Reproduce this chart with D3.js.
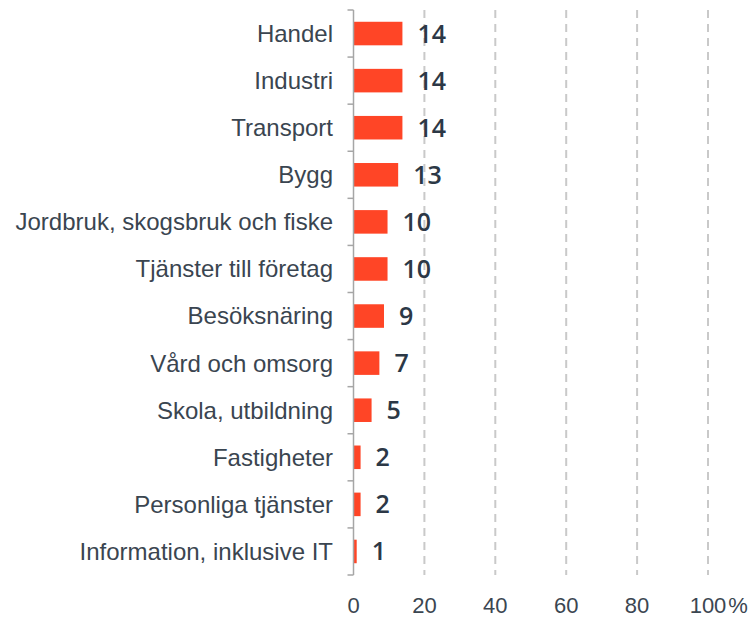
<!DOCTYPE html>
<html>
<script src="https://d3js.org/d3.v7.min.js"></script>

<head>
    <meta charset="utf-8">
    <style>
        body {
            margin: 0;
            background-color: #ffffff;
        }

        svg {
            display: block;
        }
    </style>
</head>

<body>
</body>
<script>
    const width = 756,
        height = 617;

    const categories = [
        "Handel", "Industri", "Transport", "Bygg",
        "Jordbruk, skogsbruk och fiske", "Tjänster till företag",
        "Besöksnäring", "Vård och omsorg", "Skola, utbildning",
        "Fastigheter", "Personliga tjänster", "Information, inklusive IT"
    ];
    // shares in percent
    const values = [13.8, 13.8, 13.8, 12.6, 9.6, 9.6, 8.6, 7.3, 5.1, 2.0, 2.0, 0.9];
    const xTicks = [0, 20, 40, 60, 80, 100];

    const data = categories.map((c, i) => ({ name: c, value: values[i] }));

    const svg = d3.select("body").append("svg").attr("width", width).attr("height", height);

    const x = d3.scaleLinear()
        .domain([0, 100])
        .range([353.5, 708]);
    const y = d3.scaleBand()
        .domain(categories)
        .range([10, 575])
        .paddingInner(0.5)
        .paddingOuter(0.25);

    // dashed gridlines
    xTicks.filter(d => d != 0).forEach(d => {
        svg.append("line")
            .attr("x1", x(d))
            .attr("x2", x(d))
            .attr("y1", 10)
            .attr("y2", 575)
            .attr("stroke", "#c9c9c9")
            .attr("stroke-width", 2)
            .attr("stroke-dasharray", "8,6");
    });

    // bars
    svg.selectAll("rect.bar")
        .data(data)
        .join("rect")
        .attr("class", "bar")
        .attr("x", x(0))
        .attr("y", d => y(d.name))
        .attr("width", d => x(d.value) - x(0))
        .attr("height", y.bandwidth())
        .attr("fill", "#ff4526");

    // value axis line with band tick marks on the left
    const step = y.step();
    svg.append("line")
        .attr("x1", x(0))
        .attr("x2", x(0))
        .attr("y1", 10)
        .attr("y2", 575)
        .attr("stroke", "#a6a6a6")
        .attr("stroke-width", 1.5);
    d3.range(categories.length + 1).forEach(i => {
        svg.append("line")
            .attr("x1", x(0) - 6)
            .attr("x2", x(0))
            .attr("y1", 10 + i * step)
            .attr("y2", 10 + i * step)
            .attr("stroke", "#a6a6a6")
            .attr("stroke-width", 1.5);
    });

    // category labels
    svg.selectAll("text.cat")
        .data(data)
        .join("text")
        .attr("class", "cat")
        .attr("x", 333)
        .attr("y", d => y(d.name) + y.bandwidth() / 2)
        .attr("dy", "0.35em")
        .attr("text-anchor", "end")
        .attr("font-family", "'Liberation Sans', Arial, sans-serif")
        .attr("font-size", "24px")
        .attr("fill", "#3a4550")
        .text(d => d.name);

    // value labels
    svg.selectAll("text.val")
        .data(data)
        .join("text")
        .attr("class", "val")
        .attr("x", d => x(d.value) + 15)
        .attr("y", d => y(d.name) + y.bandwidth() / 2)
        .attr("dy", "0.36em")
        .attr("font-family", "'Open Sans', sans-serif")
        .attr("font-weight", 600)
        .attr("font-size", "25px")
        .attr("fill", "#2c3846")
        .text(d => Math.round(d.value));

    // x tick labels, only the last one gets %
    xTicks.forEach((d, i) => {
        const t = svg.append("text")
            .attr("x", x(d))
            .attr("y", 613)
            .attr("text-anchor", "middle")
            .attr("font-family", "'Liberation Sans', Arial, sans-serif")
            .attr("font-size", "22px")
            .attr("fill", "#3b4651")
            .text(d);
        if (i === xTicks.length - 1) {
            const w = t.node().getComputedTextLength();
            svg.append("text")
                .attr("x", x(d) + w / 2 + 2)
                .attr("y", 613)
                .attr("font-family", "'Liberation Sans', Arial, sans-serif")
                .attr("font-size", "22px")
                .attr("fill", "#3b4651")
                .text("%");
        }
    });
</script>

</html>
